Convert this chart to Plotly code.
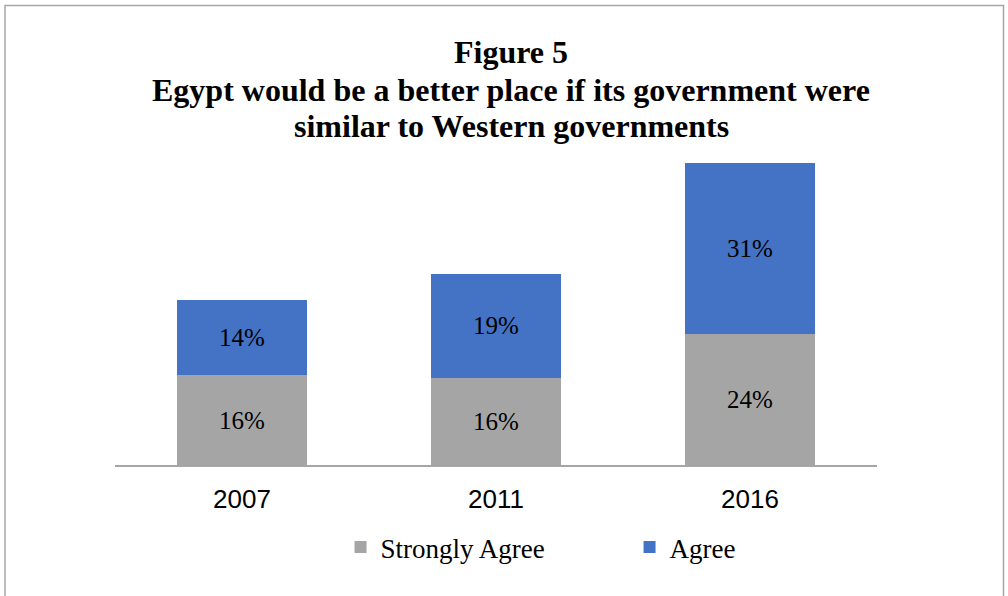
import plotly.graph_objects as go

years = ["2007", "2011", "2016"]
strongly_agree = [16.3, 15.9, 23.8]
agree = [13.7, 18.8, 31.2]
strongly_agree_labels = ["16%", "16%", "24%"]
agree_labels = ["14%", "19%", "31%"]
title_lines = [
    "Figure 5",
    "Egypt would be a better place if its government were",
    "similar to Western governments",
]

serif = "Liberation Serif, Times New Roman, serif"
sans = "Liberation Sans, Arial, sans-serif"

PLOT_TOP, PLOT_BOTTOM = 160, 465
PLOT_H = PLOT_BOTTOM - PLOT_TOP


def py(px):
    return (PLOT_BOTTOM - px) / PLOT_H


fig = go.Figure()
fig.add_trace(go.Bar(
    x=years, y=strongly_agree, name="Strongly Agree",
    marker=dict(color="#A5A5A5", line=dict(width=0)),
    text=strongly_agree_labels, textposition="inside", insidetextanchor="middle",
    textfont=dict(family=serif, size=25, color="black"), hoverinfo="skip",
))
fig.add_trace(go.Bar(
    x=years, y=agree, name="Agree",
    marker=dict(color="#4472C4", line=dict(width=0)),
    text=agree_labels, textposition="inside", insidetextanchor="middle",
    textfont=dict(family=serif, size=25, color="black"), hoverinfo="skip",
))

title_y = [52, 90, 126]
annotations = [
    dict(text=f"<b>{t}</b>", x=0.52, xref="paper", xanchor="center",
         y=py(yy), yref="paper", yanchor="middle", showarrow=False,
         font=dict(family=serif, size=32, color="black"))
    for t, yy in zip(title_lines, title_y)
]

fig.update_layout(
    width=1008, height=596,
    barmode="stack", bargap=0.488,
    margin=dict(l=115, r=131, t=PLOT_TOP, b=596 - PLOT_BOTTOM),
    paper_bgcolor="white", plot_bgcolor="white",
    annotations=annotations,
    xaxis=dict(
        showline=True, linecolor="#A6A6A6", linewidth=1.5, ticks="",
        tickfont=dict(family=sans, size=26, color="black"),
        ticklabelstandoff=10,
        showgrid=False, zeroline=False,
    ),
    yaxis=dict(range=[0, 55.5], visible=False, showgrid=False, zeroline=False),
    legend=dict(
        orientation="h", x=0.296, xanchor="left", y=-0.19, yanchor="top",
        font=dict(family=serif, size=27, color="black"),
        entrywidth=244, entrywidthmode="pixels", itemwidth=30,
        traceorder="normal",
    ),
    showlegend=True,
    shapes=[dict(type="rect", xref="paper", yref="paper",
                 x0=-110/762, x1=(1003.5-115)/762, y0=-0.5, y1=py(5.5),
                 line=dict(color="#A6A6A6", width=1.5), fillcolor="rgba(0,0,0,0)", layer="below")],
)

fig.write_html("out.html", config={"displayModeBar": False},
               post_script="document.body.style.margin='0';")
